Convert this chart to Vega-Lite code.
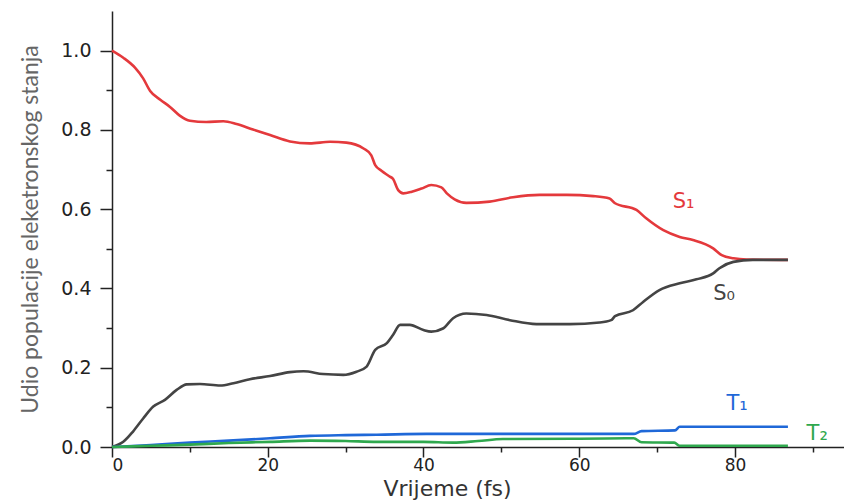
{
  "$schema": "https://vega.github.io/schema/vega-lite/v6.json",
  "width": 732,
  "height": 436,
  "autosize": {"type": "none"},
  "padding": {"left": 112, "top": 11, "right": 0, "bottom": 54},
  "background": "white",
  "config": {"view": {"stroke": null}},
  "datasets": {
    "curves": [
      {"s": "S1", "t": 0, "v": 1.0}, {"s": "S1", "t": 1.45, "v": 0.982}, {"s": "S1", "t": 2.95, "v": 0.957}, {"s": "S1", "t": 4.0, "v": 0.93},
      {"s": "S1", "t": 4.9, "v": 0.898}, {"s": "S1", "t": 6.2, "v": 0.876}, {"s": "S1", "t": 7.45, "v": 0.858}, {"s": "S1", "t": 8.7, "v": 0.836},
      {"s": "S1", "t": 10.0, "v": 0.823}, {"s": "S1", "t": 12.1, "v": 0.82}, {"s": "S1", "t": 14.3, "v": 0.822}, {"s": "S1", "t": 16.0, "v": 0.815},
      {"s": "S1", "t": 18.1, "v": 0.801}, {"s": "S1", "t": 20.3, "v": 0.787}, {"s": "S1", "t": 22.85, "v": 0.771}, {"s": "S1", "t": 25.4, "v": 0.766},
      {"s": "S1", "t": 28.0, "v": 0.77}, {"s": "S1", "t": 30.1, "v": 0.768}, {"s": "S1", "t": 32.3, "v": 0.753}, {"s": "S1", "t": 33.3, "v": 0.736},
      {"s": "S1", "t": 33.8, "v": 0.711}, {"s": "S1", "t": 34.6, "v": 0.697}, {"s": "S1", "t": 35.6, "v": 0.683}, {"s": "S1", "t": 36.1, "v": 0.676},
      {"s": "S1", "t": 36.75, "v": 0.648}, {"s": "S1", "t": 37.4, "v": 0.64}, {"s": "S1", "t": 38.5, "v": 0.644}, {"s": "S1", "t": 39.75, "v": 0.652},
      {"s": "S1", "t": 41.0, "v": 0.661}, {"s": "S1", "t": 42.3, "v": 0.655}, {"s": "S1", "t": 43.0, "v": 0.64}, {"s": "S1", "t": 44.0, "v": 0.625},
      {"s": "S1", "t": 45.5, "v": 0.616}, {"s": "S1", "t": 48.5, "v": 0.619}, {"s": "S1", "t": 51.5, "v": 0.63}, {"s": "S1", "t": 54.9, "v": 0.636},
      {"s": "S1", "t": 58.4, "v": 0.636}, {"s": "S1", "t": 61.8, "v": 0.633}, {"s": "S1", "t": 63.9, "v": 0.627}, {"s": "S1", "t": 64.6, "v": 0.615},
      {"s": "S1", "t": 67.35, "v": 0.598}, {"s": "S1", "t": 68.6, "v": 0.577}, {"s": "S1", "t": 70.8, "v": 0.547}, {"s": "S1", "t": 72.9, "v": 0.53},
      {"s": "S1", "t": 74.6, "v": 0.522}, {"s": "S1", "t": 77.2, "v": 0.501}, {"s": "S1", "t": 78.3, "v": 0.484}, {"s": "S1", "t": 79.8, "v": 0.476},
      {"s": "S1", "t": 81.5, "v": 0.473}, {"s": "S1", "t": 86.8, "v": 0.472},
      {"s": "S0", "t": 0, "v": 0.0}, {"s": "S0", "t": 1.45, "v": 0.013}, {"s": "S0", "t": 2.7, "v": 0.039}, {"s": "S0", "t": 4.0, "v": 0.072},
      {"s": "S0", "t": 5.3, "v": 0.102}, {"s": "S0", "t": 6.8, "v": 0.119}, {"s": "S0", "t": 8.3, "v": 0.144}, {"s": "S0", "t": 9.6, "v": 0.158},
      {"s": "S0", "t": 11.3, "v": 0.159}, {"s": "S0", "t": 13.9, "v": 0.155}, {"s": "S0", "t": 15.6, "v": 0.161}, {"s": "S0", "t": 17.7, "v": 0.171},
      {"s": "S0", "t": 20.3, "v": 0.179}, {"s": "S0", "t": 22.85, "v": 0.189}, {"s": "S0", "t": 24.6, "v": 0.191}, {"s": "S0", "t": 27.1, "v": 0.184},
      {"s": "S0", "t": 29.7, "v": 0.182}, {"s": "S0", "t": 31.4, "v": 0.19}, {"s": "S0", "t": 32.7, "v": 0.203}, {"s": "S0", "t": 33.8, "v": 0.245},
      {"s": "S0", "t": 35.3, "v": 0.262}, {"s": "S0", "t": 36.1, "v": 0.283}, {"s": "S0", "t": 37.0, "v": 0.308}, {"s": "S0", "t": 38.25, "v": 0.308},
      {"s": "S0", "t": 40.0, "v": 0.295}, {"s": "S0", "t": 41.0, "v": 0.291}, {"s": "S0", "t": 42.5, "v": 0.299}, {"s": "S0", "t": 43.8, "v": 0.325},
      {"s": "S0", "t": 45.5, "v": 0.337}, {"s": "S0", "t": 48.1, "v": 0.333}, {"s": "S0", "t": 51.1, "v": 0.32}, {"s": "S0", "t": 54.5, "v": 0.31},
      {"s": "S0", "t": 58.8, "v": 0.31}, {"s": "S0", "t": 62.6, "v": 0.314}, {"s": "S0", "t": 64.1, "v": 0.32}, {"s": "S0", "t": 64.6, "v": 0.33},
      {"s": "S0", "t": 66.9, "v": 0.345}, {"s": "S0", "t": 68.2, "v": 0.366}, {"s": "S0", "t": 70.3, "v": 0.396}, {"s": "S0", "t": 72.9, "v": 0.413},
      {"s": "S0", "t": 75.05, "v": 0.423}, {"s": "S0", "t": 77.2, "v": 0.438}, {"s": "S0", "t": 78.0, "v": 0.451}, {"s": "S0", "t": 79.8, "v": 0.467},
      {"s": "S0", "t": 82.3, "v": 0.472}, {"s": "S0", "t": 86.8, "v": 0.472},
      {"s": "T1", "t": 0, "v": 0.0}, {"s": "T1", "t": 5, "v": 0.005}, {"s": "T1", "t": 10, "v": 0.011}, {"s": "T1", "t": 15, "v": 0.016},
      {"s": "T1", "t": 20.3, "v": 0.022}, {"s": "T1", "t": 25.4, "v": 0.028}, {"s": "T1", "t": 30, "v": 0.03}, {"s": "T1", "t": 34, "v": 0.031},
      {"s": "T1", "t": 40.4, "v": 0.033}, {"s": "T1", "t": 50, "v": 0.033}, {"s": "T1", "t": 60, "v": 0.033}, {"s": "T1", "t": 67, "v": 0.033},
      {"s": "T1", "t": 68, "v": 0.04}, {"s": "T1", "t": 72.3, "v": 0.042}, {"s": "T1", "t": 72.9, "v": 0.051}, {"s": "T1", "t": 86.8, "v": 0.051},
      {"s": "T2", "t": 0, "v": 0.0}, {"s": "T2", "t": 5, "v": 0.003}, {"s": "T2", "t": 10, "v": 0.006}, {"s": "T2", "t": 15, "v": 0.01},
      {"s": "T2", "t": 20.3, "v": 0.013}, {"s": "T2", "t": 25.4, "v": 0.016}, {"s": "T2", "t": 30, "v": 0.015}, {"s": "T2", "t": 34, "v": 0.013},
      {"s": "T2", "t": 40, "v": 0.013}, {"s": "T2", "t": 43.8, "v": 0.011}, {"s": "T2", "t": 47, "v": 0.015}, {"s": "T2", "t": 50.2, "v": 0.02},
      {"s": "T2", "t": 60, "v": 0.021}, {"s": "T2", "t": 67, "v": 0.022}, {"s": "T2", "t": 68, "v": 0.012}, {"s": "T2", "t": 72.2, "v": 0.011},
      {"s": "T2", "t": 72.9, "v": 0.003}, {"s": "T2", "t": 86.8, "v": 0.003}
    ],
    "labels": [
      {"s": "S1", "label": "S₁", "t": 72.0, "v": 0.603},
      {"s": "S0", "label": "S₀", "t": 77.2, "v": 0.371},
      {"s": "T1", "label": "T₁", "t": 78.9, "v": 0.093},
      {"s": "T2", "label": "T₂", "t": 89.2, "v": 0.018}
    ]
  },
  "layer": [
    {
      "data": {"name": "curves"},
      "mark": {"type": "line", "strokeWidth": 2.6, "interpolate": "monotone"},
      "encoding": {
        "x": {
          "field": "t", "type": "quantitative",
          "scale": {"domain": [0, 94], "nice": false, "zero": false},
          "axis": {
            "orient": "bottom", "values": [0, 20, 40, 60, 80], "grid": false,
            "tickSize": 10, "tickWidth": 1.5, "tickColor": "#222", "domainColor": "#222", "domainWidth": 1.5,
            "labelFont": "DejaVu Sans", "labelFontSize": 17, "labelColor": "#222", "labelPadding": 0,
            "title": "Vrijeme (fs)", "titleFont": "DejaVu Sans", "titleFontSize": 22, "titleFontWeight": "normal",
            "titleColor": "#333", "titleX": 335, "titleY": 48, "titleBaseline": "alphabetic", "titleAlign": "center"
          }
        },
        "y": {
          "field": "v", "type": "quantitative",
          "scale": {"domain": [0, 1.1], "nice": false, "zero": false},
          "axis": {
            "orient": "left", "values": [0, 0.2, 0.4, 0.6, 0.8, 1.0], "format": ".1f", "grid": false,
            "tickSize": 12, "tickWidth": 1.5, "tickColor": "#222", "domainColor": "#222", "domainWidth": 1.5,
            "labelFont": "DejaVu Sans", "labelFontSize": 19, "labelColor": "#222", "labelPadding": 9,
            "title": "Udio populacije eleketronskog stanja", "titleFont": "Lato", "titleFontSize": 23, "titleFontWeight": "normal",
            "titleColor": "#666", "titleX": -75, "titleY": 218, "titleAngle": -90, "titleBaseline": "alphabetic", "titleAlign": "center"
          }
        },
        "color": {
          "field": "s", "type": "nominal",
          "scale": {"domain": ["S1", "S0", "T1", "T2"], "range": ["#e4393c", "#444444", "#1f68d8", "#2fa84e"]},
          "legend": null
        },
        "detail": {"field": "s"}
      }
    },
    {
      "data": {"name": "labels"},
      "mark": {"type": "text", "font": "DejaVu Sans", "fontSize": 21, "align": "left", "baseline": "alphabetic"},
      "encoding": {
        "x": {
          "field": "t", "type": "quantitative",
          "scale": {"domain": [0, 94], "nice": false, "zero": false},
          "axis": {
            "orient": "bottom", "values": [10, 30, 50, 70, 90], "grid": false, "labels": false, "domain": false,
            "tickSize": 5, "tickWidth": 1.5, "tickColor": "#222", "title": null
          }
        },
        "y": {
          "field": "v", "type": "quantitative",
          "scale": {"domain": [0, 1.1], "nice": false, "zero": false},
          "axis": {
            "orient": "left", "values": [0.1, 0.3, 0.5, 0.7, 0.9], "grid": false, "labels": false, "domain": false,
            "tickSize": 6, "tickWidth": 1.5, "tickColor": "#222", "title": null
          }
        },
        "text": {"field": "label"},
        "color": {"field": "s", "type": "nominal", "legend": null}
      }
    }
  ],
  "resolve": {"axis": {"x": "independent", "y": "independent"}}
}
